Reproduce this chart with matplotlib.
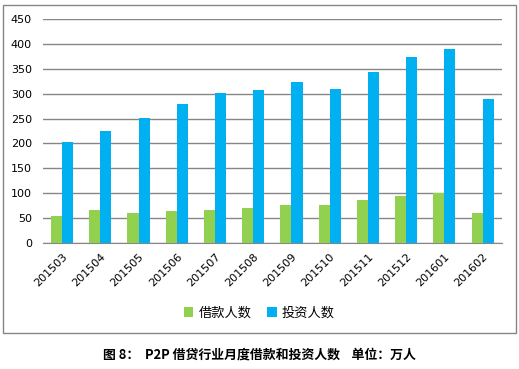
import numpy as np
import matplotlib.pyplot as plt
from matplotlib.patches import Rectangle

plt.rcParams['font.family'] = ['DejaVu Sans', 'Noto Sans CJK SC']

# 数据
months = ['201503', '201504', '201505', '201506', '201507', '201508',
          '201509', '201510', '201511', '201512', '201601', '201602']
borrowers = [55, 67, 61, 65, 67, 71, 77, 77, 87, 95, 101, 61]
investors = [203, 225, 251, 279, 301, 307, 323, 309, 343, 373, 389, 289]

green = '#92D050'
blue = '#00B0F0'
grid_c = '#868686'

fig = plt.figure(figsize=(5.19, 3.69), dpi=100)
ax = fig.add_axes([43 / 519, 1 - 243.3 / 369, 458.7 / 519, 224.6 / 369])

x = np.arange(len(months))
w = 0.29
ax.bar(x - w / 2, borrowers, w, color=green, label='借款人数', zorder=3)
ax.bar(x + w / 2, investors, w, color=blue, label='投资人数', zorder=3)

ax.set_xlim(-0.5, len(months) - 0.5)
ax.set_ylim(0, 450)
ax.set_yticks(range(0, 451, 50))
ax.yaxis.grid(True, color=grid_c, lw=1.0, zorder=0)
ax.set_axisbelow(True)
for s in ['top', 'right', 'left']:
    ax.spines[s].set_visible(False)
ax.spines['bottom'].set_color(grid_c)
ax.tick_params(axis='both', length=0, labelsize=8, colors='black')
ax.tick_params(axis='y', pad=8)
ax.set_xticks(x)
ax.set_xticklabels(months, rotation=45, ha='right', rotation_mode='anchor')
ax.tick_params(axis='x', pad=6)

# 图例
fig.legend(loc='center', bbox_to_anchor=(0.5, 1 - 313 / 369), ncol=2, frameon=False,
           handlelength=0.7, handleheight=0.7, columnspacing=1.2,
           handletextpad=0.4,
           prop={'family': ['Noto Sans CJK SC'], 'size': 9.5})

# 外框
fig.patches.append(Rectangle((3 / 519, 1 - 333 / 369), 513 / 519, 328 / 369,
                             transform=fig.transFigure, fill=False,
                             edgecolor='#868686', lw=1.0))

# 标题
fig.text(0.5, 1 - 355 / 369, '图 8：  P2P 借贷行业月度借款和投资人数    单位：万人',
         ha='center', va='center', fontsize=9.3, fontweight='bold',
         family=['Noto Sans CJK SC', 'DejaVu Sans'])

fig.savefig('out.png', dpi=100)
